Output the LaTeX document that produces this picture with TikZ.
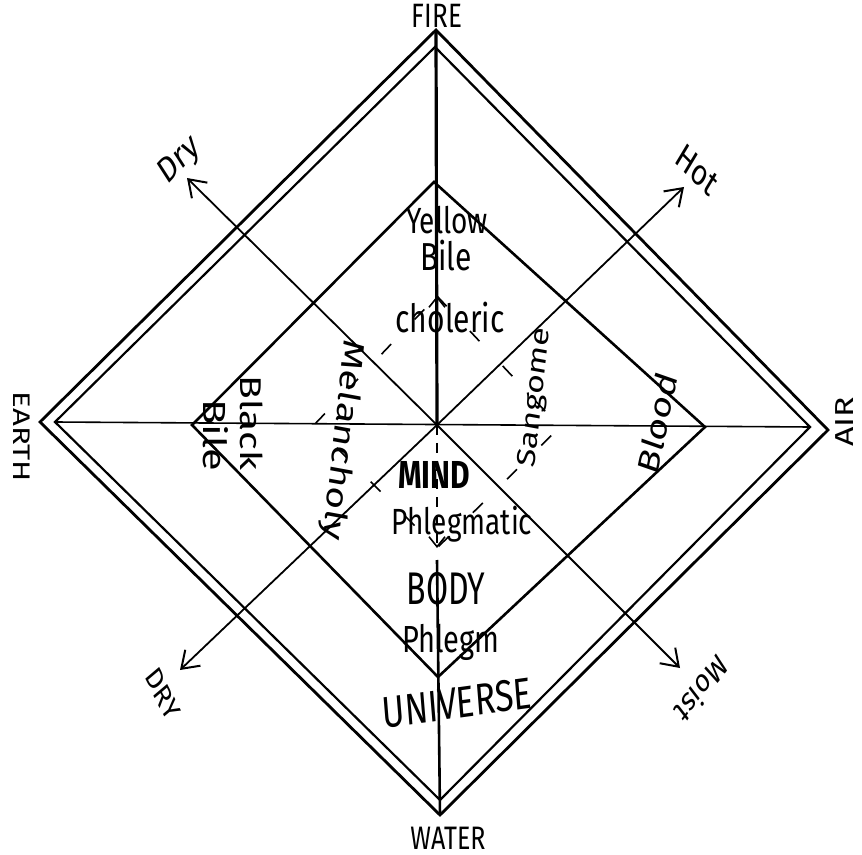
\documentclass[tikz,border=0pt]{standalone}
\usepackage{fontspec}
\setmainfont{Fira Sans}
\usetikzlibrary{arrows.meta}

\begin{document}
\begin{tikzpicture}[x=0.5pt, y=-0.5pt,
    hand/.style={inner sep=0pt, yscale=1.3, font=\fontsize{#1}{#1}\selectfont},
    quality/.style={line width=0.9pt, -{Straight Barb[length=8pt,width=11pt,line width=1pt]}},
    mindline/.style={line width=0.8pt, dash pattern=on 7pt off 17pt}]
    \useasboundingbox (0,0) rectangle (862,855);

    % centre, the four elements, the humours and the mind
    \coordinate (O) at (437,425);
    \coordinate (fireO) at (436,30);  \coordinate (airO) at (828,430);
    \coordinate (waterO) at (440,815); \coordinate (earthO) at (40,422);
    \coordinate (fireI) at (435,47);  \coordinate (airI) at (810,427);
    \coordinate (waterI) at (440,800); \coordinate (earthI) at (55,422);
    \coordinate (yellowV) at (434,182); \coordinate (bloodV) at (705,427);
    \coordinate (phlegmV) at (438,677); \coordinate (blackV) at (192,425);
    \coordinate (mindT) at (437,296); \coordinate (mindR) at (560,427);
    \coordinate (mindB) at (437,548); \coordinate (mindL) at (314,425);
    \coordinate (bodyTop) at (437,560);
    \coordinate (dryA) at (187,178);  \coordinate (hotA) at (684,187);
    \coordinate (dryB) at (180,670);  \coordinate (moistA) at (680,668);

    % universe: double frame
    \draw[line width=1.4pt] (fireO) -- (airO) -- (waterO) -- (earthO) -- cycle;
    \draw[line width=1.1pt] (fireI) -- (airI) -- (waterI) -- (earthI) -- cycle;

    % axes
    \draw[line width=1.6pt] (fireO) -- (O);
    \draw[line width=0.8pt] (earthI) -- (airI);
    \draw[line width=1.3pt] (bodyTop) -- (waterO);
    \foreach \q in {dryA,hotA,dryB,moistA} {
        \draw[quality] (O) -- (\q);
    }

    % body
    \draw[line width=1.3pt] (yellowV) -- (bloodV) -- (phlegmV) -- (blackV) -- cycle;

    % mind
    \draw[mindline] (mindT) -- (mindR) -- (mindB) -- (mindL) -- cycle;
    \draw[line width=0.8pt, -{Straight Barb[length=5pt,width=8pt]}] (O) -- (mindT);
    \draw[mindline, dash pattern=on 5pt off 4pt, -{Straight Barb[length=5pt,width=8pt]}] (O) -- (mindB);

    % elements
    \node[hand=13] (fire) at (437,16) {FIRE};
    \node[hand=12.5] (water) at (448,838) {WATER};
    \node[hand=12, rotate=-90] (earth) at (22,437) {EARTH};
    \node[hand=13, rotate=90] (air) at (845,422) {AIR};

    % qualities
    \node[hand=14, rotate=40] (dry1) at (180,161) {Dry};
    \node[hand=14, rotate=-38] (hot) at (697,170) {Hot};
    \node[hand=12, rotate=-57] (dry2) at (163,694) {DRY};
    \node[hand=12.5, rotate=225] (moist) at (702,690) {Moist};

    % humours
    \node[hand=14] (yellow) at (447,220) {Yellow};
    \node[hand=15] (ybile) at (446,256) {Bile};
    \node[hand=15, rotate=-90] (black) at (252,423) {Black};
    \node[hand=16, rotate=-90] (bbile) at (216,435) {Bile};
    \node[hand=15, rotate=75] (blood) at (657,423) {Blood};
    \node[hand=14.5] (phlegm) at (451,642) {Phlegm};

    % temperaments
    \node[hand=15] (choleric) at (450,318) {choleric};
    \node[hand=15, rotate=-98] (melancholy) at (342,440) {Melancholy};
    \node[hand=13, rotate=82] (sangome) at (536,398) {Sangome};
    \node[hand=14] (phlegmatic) at (462,524) {Phlegmatic};

    % levels
    \node[hand=15, font=\fontsize{15}{15}\selectfont\bfseries] (mind) at (434,475) {MIND};
    \node[hand=16, yscale=1.1] (body) at (446,589) {BODY};
    \node[hand=17, rotate=6] (universe) at (457,703) {UNIVERSE};
\end{tikzpicture}
\end{document}
